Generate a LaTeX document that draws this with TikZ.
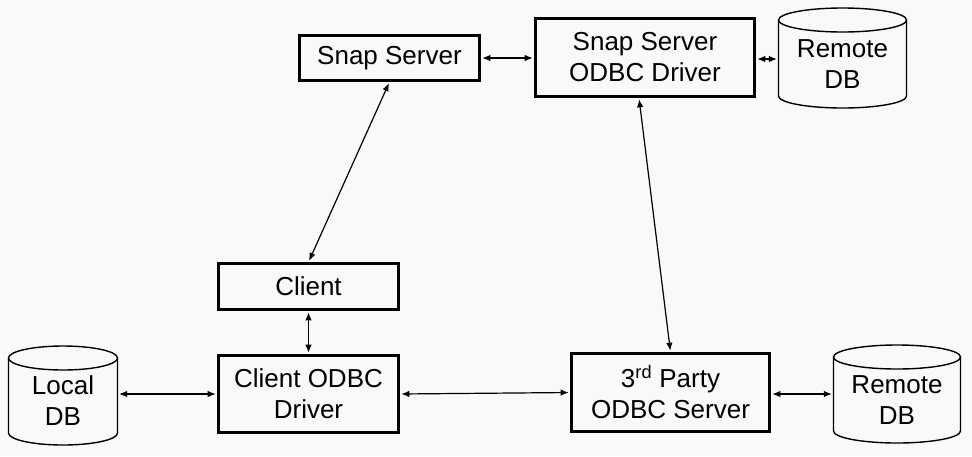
\documentclass[tikz,border=0pt]{standalone}
\usepackage{fontspec}
\setmainfont{Liberation Sans}
\usetikzlibrary{arrows.meta}
\definecolor{bg}{HTML}{F9F9F9}
\begin{document}
\begin{tikzpicture}[x=1pt,y=-1pt,
  lbl/.style={font=\fontsize{26}{31}\selectfont, align=center, inner sep=0pt},
  box/.style={lbl, draw, line width=2.8pt, fill=bg},
  cyl/.style={draw, line width=1.4pt, fill=bg},
  conn/.style={{Latex[length=8pt,width=6.5pt]}-{Latex[length=8pt,width=6.5pt]}, line width=1.2pt, shorten <=1.4pt, shorten >=1.4pt}]
\fill[bg] (0,0) rectangle (972,456);
\useasboundingbox (0,0) rectangle (972,456);
% boxes
\node[box, minimum width=180pt, minimum height=45pt] (snap) at (389.5,58) {Snap Server};
\node[box, minimum width=219pt, minimum height=78pt] (sodbc) at (645,57.5) {Snap Server\\ODBC Driver};
\node[box, minimum width=180pt, minimum height=46pt] (client) at (308.5,286.5) {Client};
\node[box, minimum width=180pt, minimum height=77pt] (codbc) at (308.5,394) {Client ODBC\\Driver};
\node[box, minimum width=198pt, minimum height=78pt] (third) at (670.5,392.5) {3\textsuperscript{rd} Party\\ODBC Server};
% cylinders
\draw[cyl] (778.5,20) -- (778.5,96) arc[start angle=180,end angle=0,x radius=64,y radius=12] -- (906.5,20);
\draw[cyl] (842.5,20) ellipse[x radius=64, y radius=12];
\node[lbl, minimum width=128pt, minimum height=88pt] (rdbt) at (842.5,64) {Remote\\DB};
\draw[cyl] (8.5,358) -- (8.5,433) arc[start angle=180,end angle=0,x radius=54.5,y radius=12] -- (117.5,358);
\draw[cyl] (63,358) ellipse[x radius=54.5, y radius=12];
\node[lbl, minimum width=109pt, minimum height=87pt] (ldb) at (63,401) {Local\\DB};
\draw[cyl] (833.5,357) -- (833.5,431) arc[start angle=180,end angle=0,x radius=63.5,y radius=12] -- (960.5,357);
\draw[cyl] (897,357) ellipse[x radius=63.5, y radius=12];
\node[lbl, minimum width=127pt, minimum height=86pt] (rdbb) at (897,400) {Remote\\DB};
% connectors
\draw[conn] (snap.east) -- (sodbc.west |- snap.east);
\draw[conn] (sodbc.east |- 0,59) -- (rdbt.west |- 0,59);
\draw[conn] (snap.south) -- (client.north);
\draw[conn] ([xshift=-6pt]sodbc.south) -- (third.north);
\draw[conn] (client.south) -- (codbc.north);
\draw[conn] (ldb.east |- codbc.west) -- (codbc.west);
\draw[conn] (codbc.east) -- (third.west);
\draw[conn] (third.east |- 0,394) -- (rdbb.west |- 0,394);
\end{tikzpicture}
\end{document}
